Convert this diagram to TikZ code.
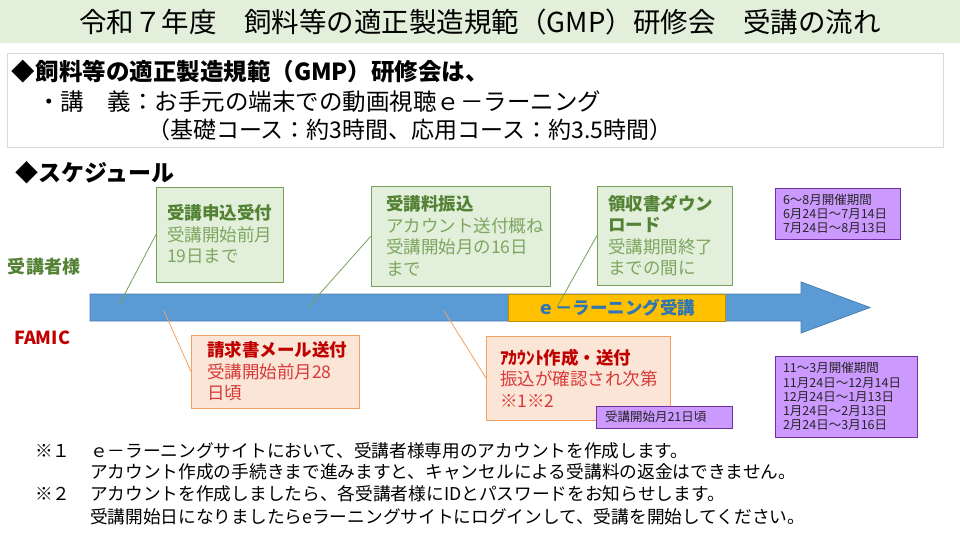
\documentclass[tikz,border=0pt]{standalone}
\usepackage{fontspec}
\setmainfont{Noto Sans CJK JP}
\definecolor{titlebg}{HTML}{E2EFDA}
\definecolor{gfill}{HTML}{E2EFDA}
\definecolor{gdraw}{HTML}{78A05A}
\definecolor{gdark}{HTML}{548235}
\definecolor{glight}{HTML}{7EA660}
\definecolor{ofill}{HTML}{FBE5D6}
\definecolor{odraw}{HTML}{F4A060}
\definecolor{odark}{HTML}{C00000}
\definecolor{olight}{HTML}{D83A3A}
\definecolor{pfill}{HTML}{CC99FF}
\definecolor{pdraw}{HTML}{7030A0}
\definecolor{afill}{HTML}{5B9BD5}
\definecolor{adraw}{HTML}{4A7EB0}
\definecolor{bfill}{HTML}{FFC000}
\definecolor{bdraw}{HTML}{BF9000}
\definecolor{btext}{HTML}{2E75B6}
\definecolor{lgray}{HTML}{D9D9D9}
\begin{document}
\begin{tikzpicture}[x=1pt,y=-1pt,
  txt/.style={inner sep=0pt,outer sep=0pt,anchor=west},
  boxbase/.style={rectangle,draw,line width=1pt,outer sep=0pt,anchor=north west,align=left,inner ysep=0pt,
    font=\fontsize{17.5}{21.5}\selectfont},
  gbox/.style={boxbase,fill=gfill,draw=gdraw,text=glight},
  obox/.style={boxbase,fill=ofill,draw=odraw,text=olight},
  pbox/.style={rectangle,draw=pdraw,fill=pfill,line width=1pt,outer sep=0pt,anchor=north west,align=left,
    inner ysep=0pt,text=black!85,font=\fontsize{12.5}{14.2}\selectfont},
  gline/.style={draw=gdraw,line width=0.8pt},
  oline/.style={draw=odraw,line width=0.8pt},
  foot/.style={txt,font=\fontsize{17.7}{20}\selectfont}
]
\useasboundingbox (0,0) rectangle (960,540);
% title band
\fill[titlebg] (0,0) rectangle (960,43);
\node[inner sep=0pt] (title) at (480,22) {\fontsize{27.5}{30}\selectfont 令和７年度　飼料等の適正製造規範（GMP）研修会　受講の流れ};
% intro box
\node[draw=lgray,line width=1pt,outer sep=0pt,anchor=north west,minimum width=936,minimum height=94,inner sep=0pt] (intro) at (7,54) {};
\node[txt,font=\bfseries\fontsize{23.5}{26}\selectfont] (i1) at (12,72) {◆飼料等の適正製造規範（GMP）研修会は、};
\node[txt,font=\fontsize{23.5}{26}\selectfont] (i2) at (37,102) {・講　義：お手元の端末での動画視聴ｅ－ラーニング};
\node[txt,font=\fontsize{23}{26}\selectfont] (i3) at (147,130) {（基礎コース：約3時間、応用コース：約3.5時間）};
% schedule heading
\node[txt,font=\bfseries\fontsize{23}{26}\selectfont] (sched) at (15,173) {◆スケジュール};
\node[txt,font=\bfseries\fontsize{18}{20}\selectfont,text=gdark] (user) at (8,267) {受講者様};
\node[txt,font=\bfseries\fontsize{18}{20}\selectfont,text=odark] (famic) at (14,338) {FAMIC};
% arrow
\draw[fill=afill,draw=adraw,line width=0.8pt] (90,294) -- (801,294) -- (801,282) -- (870,307.5) -- (801,333) -- (801,321) -- (90,321) -- cycle;
\node[rectangle,draw=bdraw,fill=bfill,line width=1pt,outer sep=0pt,anchor=north west,minimum width=217,minimum height=27,inner sep=0pt,
  text=btext,font=\bfseries\fontsize{17.5}{20}\selectfont] (elearn) at (508,294) {ｅ－ラーニング受講};
% free ends of connectors
\coordinate (g1end) at (119,305);
\coordinate (g2end) at (308,307);
\coordinate (g3end) at (557,307);
\coordinate (o1end) at (164,311);
\coordinate (o2end) at (444,311);
% green boxes
\node[gbox,minimum height=95,text width=105,inner xsep=11] (box1) at (156,187)
  {{\bfseries\color{gdark}受講申込受付}\\受講開始前月\\19日まで};
\node[gbox,minimum height=100,text width=149,inner xsep=15] (box2) at (371,186)
  {{\bfseries\color{gdark}受講料振込}\\アカウント送付概ね\\受講開始月の16日\\まで};
\node[gbox,minimum height=99,text width=113,inner xsep=11] (box3) at (597,186)
  {{\bfseries\color{gdark}領収書ダウン\\ロード}\\受講期間終了\\までの間に};
% orange boxes
\node[obox,minimum height=73,text width=136,inner xsep=16] (ob1) at (191,335)
  {{\bfseries\color{odark}請求書メール送付}\\受講開始前月28\\日頃};
\node[obox,minimum height=84,text width=156,inner xsep=14] (ob2) at (486,336)
  {{\bfseries\color{odark}ｱｶｳﾝﾄ作成・送付}\\振込が確認され次第\\※1※2};
% connectors
\draw[gline] (g1end) -- (box1.west);
\draw[gline] (g2end) -- (box2.west);
\draw[gline] (g3end) -- (box3.west);
\draw[oline] (o1end) -- (ob1.west);
\draw[oline] (o2end) -- (ob2.west);
% purple boxes
\node[pbox,minimum height=51,text width=109,inner xsep=8] (p1) at (775,188)
  {6～8月開催期間\\6月24日～7月14日\\7月24日～8月13日};
\node[pbox,minimum height=81,text width=126,inner xsep=8] (p2) at (775,356)
  {11～3月開催期間\\11月24日～12月14日\\12月24日～1月13日\\1月24日～2月13日\\2月24日～3月16日};
\node[pbox,minimum height=22,text width=118,inner xsep=9] (p3) at (596,406)
  {受講開始月21日頃};
% footnotes
\node[foot] (n1) at (35,451) {※１};
\node[foot] (f1) at (90,451) {ｅ－ラーニングサイトにおいて、受講者様専用のアカウントを作成します。};
\node[foot] (f2) at (90,472) {アカウント作成の手続きまで進みますと、キャンセルによる受講料の返金はできません。};
\node[foot] (n2) at (35,494) {※２};
\node[foot] (f3) at (90,494) {アカウントを作成しましたら、各受講者様にIDとパスワードをお知らせします。};
\node[foot] (f4) at (90,517) {受講開始日になりましたらeラーニングサイトにログインして、受講を開始してください。};
\end{tikzpicture}
\end{document}
